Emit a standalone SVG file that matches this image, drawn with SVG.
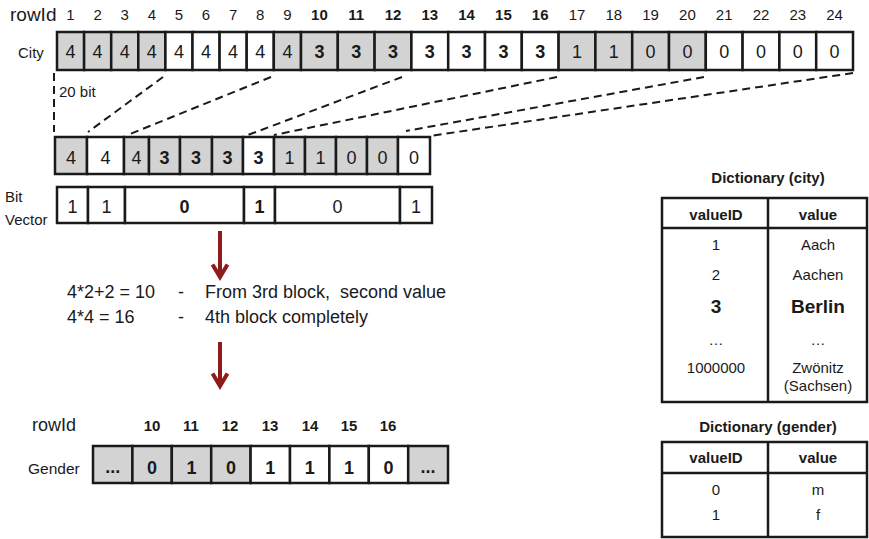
<svg xmlns="http://www.w3.org/2000/svg" width="869" height="539" viewBox="0 0 869 539">
  <style>
    text { font-family: "Liberation Sans", Arial, sans-serif; fill: #1a1a1a; white-space: pre; }
    .lbl { font-size: 15px; }
    .num { font-size: 15px; text-anchor: middle; }
    .numb { font-size: 15px; text-anchor: middle; font-weight: bold; }
    .v { font-size: 18px; text-anchor: middle; }
    .vb { font-size: 18px; text-anchor: middle; font-weight: bold; }
    .g { fill: #d3d3d3; stroke: #1a1a1a; stroke-width: 2.5; }
    .w { fill: #ffffff; stroke: #1a1a1a; stroke-width: 2.5; }
    .dash { stroke: #1a1a1a; stroke-width: 2; stroke-dasharray: 8 5; fill: none; }
    .arrow { stroke: #8e1b1b; stroke-width: 4; fill: none; }
    .tbl { fill: #ffffff; stroke: #1a1a1a; stroke-width: 2.5; }
    .tl { stroke: #1a1a1a; stroke-width: 2.5; }
    .th { font-size: 15px; font-weight: bold; text-anchor: middle; }
    .td { font-size: 15px; text-anchor: middle; }
    .title { font-size: 15px; font-weight: bold; text-anchor: middle; }
  </style>

  <!-- row ids over the city column -->
  <g id="rowid-header">
    <text x="10" y="21" style="font-size:19px">rowId</text>
    <text class="num" x="70.5" y="20">1</text>
    <text class="num" x="97.6" y="20">2</text>
    <text class="num" x="124.7" y="20">3</text>
    <text class="num" x="151.8" y="20">4</text>
    <text class="num" x="179" y="20">5</text>
    <text class="num" x="206" y="20">6</text>
    <text class="num" x="233.1" y="20">7</text>
    <text class="num" x="260.2" y="20">8</text>
    <text class="num" x="287.4" y="20">9</text>
    <text class="numb" x="319.4" y="20">10</text>
    <text class="numb" x="356.2" y="20">11</text>
    <text class="numb" x="393" y="20">12</text>
    <text class="numb" x="429.8" y="20">13</text>
    <text class="numb" x="466.6" y="20">14</text>
    <text class="numb" x="503.4" y="20">15</text>
    <text class="numb" x="540.2" y="20">16</text>
    <text class="num" x="577" y="20">17</text>
    <text class="num" x="613.8" y="20">18</text>
    <text class="num" x="650.6" y="20">19</text>
    <text class="num" x="687.4" y="20">20</text>
    <text class="num" x="724.2" y="20">21</text>
    <text class="num" x="761" y="20">22</text>
    <text class="num" x="797.8" y="20">23</text>
    <text class="num" x="834.6" y="20">24</text>
  </g>

  <!-- uncompressed city column -->
  <g id="city-row">
    <text class="lbl" x="18" y="58">City</text>
    <rect class="g" x="57" y="32" width="27.1" height="38"/>
    <rect class="g" x="84.1" y="32" width="27.1" height="38"/>
    <rect class="g" x="111.2" y="32" width="27.1" height="38"/>
    <rect class="g" x="138.3" y="32" width="27.1" height="38"/>
    <rect class="w" x="165.4" y="32" width="27.1" height="38"/>
    <rect class="w" x="192.5" y="32" width="27.1" height="38"/>
    <rect class="w" x="219.6" y="32" width="27.1" height="38"/>
    <rect class="w" x="246.7" y="32" width="27.1" height="38"/>
    <rect class="g" x="273.8" y="32" width="27.2" height="38"/>
    <rect class="g" x="301" y="32" width="36.8" height="38"/>
    <rect class="g" x="337.8" y="32" width="36.8" height="38"/>
    <rect class="g" x="374.6" y="32" width="36.8" height="38"/>
    <rect class="w" x="411.4" y="32" width="36.8" height="38"/>
    <rect class="w" x="448.2" y="32" width="36.8" height="38"/>
    <rect class="w" x="485" y="32" width="36.8" height="38"/>
    <rect class="w" x="521.8" y="32" width="36.8" height="38"/>
    <rect class="g" x="558.6" y="32" width="36.8" height="38"/>
    <rect class="g" x="595.4" y="32" width="36.8" height="38"/>
    <rect class="g" x="632.2" y="32" width="36.8" height="38"/>
    <rect class="g" x="669" y="32" width="36.8" height="38"/>
    <rect class="w" x="705.8" y="32" width="36.8" height="38"/>
    <rect class="w" x="742.6" y="32" width="36.8" height="38"/>
    <rect class="w" x="779.4" y="32" width="36.8" height="38"/>
    <rect class="w" x="816.2" y="32" width="36.8" height="38"/>
    <text class="v" x="70.5" y="58">4</text>
    <text class="v" x="97.6" y="58">4</text>
    <text class="v" x="124.7" y="58">4</text>
    <text class="v" x="151.8" y="58">4</text>
    <text class="v" x="179" y="58">4</text>
    <text class="v" x="206" y="58">4</text>
    <text class="v" x="233.1" y="58">4</text>
    <text class="v" x="260.2" y="58">4</text>
    <text class="v" x="287.4" y="58">4</text>
    <text class="vb" x="319.4" y="58">3</text>
    <text class="vb" x="356.2" y="58">3</text>
    <text class="vb" x="393" y="58">3</text>
    <text class="vb" x="429.8" y="58">3</text>
    <text class="vb" x="466.6" y="58">3</text>
    <text class="vb" x="503.4" y="58">3</text>
    <text class="vb" x="540.2" y="58">3</text>
    <text class="v" x="577" y="58">1</text>
    <text class="v" x="613.8" y="58">1</text>
    <text class="v" x="650.6" y="58">0</text>
    <text class="v" x="687.4" y="58">0</text>
    <text class="v" x="724.2" y="58">0</text>
    <text class="v" x="761" y="58">0</text>
    <text class="v" x="797.8" y="58">0</text>
    <text class="v" x="834.6" y="58">0</text>
  </g>

  <g id="bit-width-label">
    <text x="59" y="97" style="font-size:15px">20 bit</text>
  </g>

  <!-- one value kept per block -->
  <g id="compressed-row">
    <rect class="g" x="55" y="137" width="32" height="37"/>
    <rect class="w" x="87" y="137" width="37" height="37"/>
    <rect class="g" x="124" y="137" width="25" height="37"/>
    <rect class="g" x="149" y="137" width="31" height="37"/>
    <rect class="g" x="180" y="137" width="32" height="37"/>
    <rect class="g" x="212" y="137" width="31" height="37"/>
    <rect class="w" x="243" y="137" width="31" height="37"/>
    <rect class="g" x="274" y="137" width="31" height="37"/>
    <rect class="g" x="305" y="137" width="31" height="37"/>
    <rect class="g" x="336" y="137" width="31" height="37"/>
    <rect class="g" x="367" y="137" width="31" height="37"/>
    <rect class="w" x="398" y="137" width="32" height="37"/>
    <text class="v" x="71" y="164">4</text>
    <text class="v" x="105.5" y="164">4</text>
    <text class="v" x="136.5" y="164">4</text>
    <text class="vb" x="164.5" y="164">3</text>
    <text class="vb" x="196" y="164">3</text>
    <text class="vb" x="227.5" y="164">3</text>
    <text class="vb" x="258.5" y="164">3</text>
    <text class="v" x="289.5" y="164">1</text>
    <text class="v" x="320.5" y="164">1</text>
    <text class="v" x="351.5" y="164">0</text>
    <text class="v" x="382.5" y="164">0</text>
    <text class="v" x="414" y="164">0</text>
  </g>

  <g id="bit-vector">
    <text class="lbl" x="5" y="202">Bit</text>
    <text class="lbl" x="5" y="225">Vector</text>
    <rect class="w" x="57" y="187" width="31" height="36"/>
    <rect class="w" x="88" y="187" width="37" height="36"/>
    <rect class="w" x="125" y="187" width="119" height="36"/>
    <rect class="w" x="244" y="187" width="31" height="36"/>
    <rect class="w" x="275" y="187" width="125" height="36"/>
    <rect class="w" x="400" y="187" width="32" height="36"/>
    <text class="v" x="72.5" y="213">1</text>
    <text class="v" x="106.5" y="213">1</text>
    <text class="vb" x="184.5" y="213">0</text>
    <text class="vb" x="259.5" y="213">1</text>
    <text class="v" x="337.5" y="213">0</text>
    <text class="v" x="416" y="213">1</text>
  </g>

  <g id="calculation">
    <text x="67" y="298" style="font-size:18px">4*2+2 = 10</text>
    <text x="178" y="298" style="font-size:18px">-</text>
    <text x="205" y="298" style="font-size:18px" xml:space="preserve">From 3rd block,  second value</text>
    <text x="67" y="323" style="font-size:18px">4*4 = 16</text>
    <text x="178" y="323" style="font-size:18px">-</text>
    <text x="205" y="323" style="font-size:18px">4th block completely</text>
  </g>

  <!-- gender column for the selected rows -->
  <g id="gender-row">
    <text x="32" y="431" style="font-size:18px">rowId</text>
    <text class="numb" x="152" y="431">10</text>
    <text class="numb" x="191" y="431">11</text>
    <text class="numb" x="230" y="431">12</text>
    <text class="numb" x="270" y="431">13</text>
    <text class="numb" x="310" y="431">14</text>
    <text class="numb" x="349" y="431">15</text>
    <text class="numb" x="388" y="431">16</text>
    <text x="28" y="474" style="font-size:15.5px">Gender</text>
    <rect class="g" x="93" y="446" width="39.4" height="37"/>
    <rect class="g" x="132.4" y="446" width="39.4" height="37"/>
    <rect class="g" x="171.8" y="446" width="39.4" height="37"/>
    <rect class="g" x="211.2" y="446" width="39.4" height="37"/>
    <rect class="w" x="250.6" y="446" width="39.4" height="37"/>
    <rect class="w" x="290" y="446" width="39.4" height="37"/>
    <rect class="w" x="329.4" y="446" width="39.4" height="37"/>
    <rect class="w" x="368.8" y="446" width="39.4" height="37"/>
    <rect class="g" x="408.2" y="446" width="39.8" height="37"/>
    <text class="vb" x="112.7" y="473">...</text>
    <text class="vb" x="152.1" y="474">0</text>
    <text class="vb" x="191.5" y="474">1</text>
    <text class="vb" x="230.9" y="474">0</text>
    <text class="vb" x="270.3" y="474">1</text>
    <text class="vb" x="309.7" y="474">1</text>
    <text class="vb" x="349.1" y="474">1</text>
    <text class="vb" x="388.5" y="474">0</text>
    <text class="vb" x="428.1" y="473">...</text>
  </g>

  <g id="dict-city">
    <text class="title" x="768" y="183">Dictionary (city)</text>
    <rect class="tbl" x="662" y="198" width="205" height="204"/>
    <line class="tl" x1="662" y1="228" x2="867" y2="228"/>
    <line class="tl" x1="768" y1="198" x2="768" y2="402"/>
    <text class="th" x="716" y="220">valueID</text>
    <text class="th" x="818" y="220">value</text>
    <text class="td" x="716" y="250">1</text>
    <text class="td" x="818" y="250">Aach</text>
    <text class="td" x="716" y="280">2</text>
    <text class="td" x="818" y="280">Aachen</text>
    <text class="td" x="716" y="313" style="font-size:19px;font-weight:bold">3</text>
    <text class="td" x="818" y="313" style="font-size:19px;font-weight:bold">Berlin</text>
    <text class="td" x="716" y="345">…</text>
    <text class="td" x="818" y="345">…</text>
    <text class="td" x="716" y="373">1000000</text>
    <text class="td" x="818" y="373">Zwönitz</text>
    <text class="td" x="818" y="391">(Sachsen)</text>
  </g>

  <g id="dict-gender">
    <text class="title" x="768" y="432">Dictionary (gender)</text>
    <rect class="tbl" x="662" y="442" width="205" height="95"/>
    <line class="tl" x1="662" y1="473" x2="867" y2="473"/>
    <line class="tl" x1="768" y1="442" x2="768" y2="537"/>
    <text class="th" x="716" y="463">valueID</text>
    <text class="th" x="818" y="463">value</text>
    <text class="td" x="716" y="495">0</text>
    <text class="td" x="818" y="495">m</text>
    <text class="td" x="716" y="520">1</text>
    <text class="td" x="818" y="520">f</text>
  </g>

  <!-- block boundaries and flow arrows -->
  <g id="connectors">
    <line class="dash" x1="54" y1="73" x2="54" y2="132"/>
    <line class="dash" x1="163" y1="77" x2="88" y2="132"/>
    <line class="dash" x1="271" y1="77" x2="130" y2="134"/>
    <line class="dash" x1="402" y1="77" x2="248" y2="135"/>
    <line class="dash" x1="557" y1="77" x2="274" y2="135"/>
    <line class="dash" x1="704" y1="77" x2="406" y2="131"/>
    <line class="dash" x1="853" y1="73" x2="430" y2="136"/>
    <line class="arrow" x1="220" y1="231" x2="220" y2="277"/>
    <polyline class="arrow" points="212.5,264.5 220,277 227.5,264.5"/>
    <line class="arrow" x1="220" y1="342" x2="220" y2="386"/>
    <polyline class="arrow" points="212.5,373.5 220,386 227.5,373.5"/>
  </g>
</svg>
